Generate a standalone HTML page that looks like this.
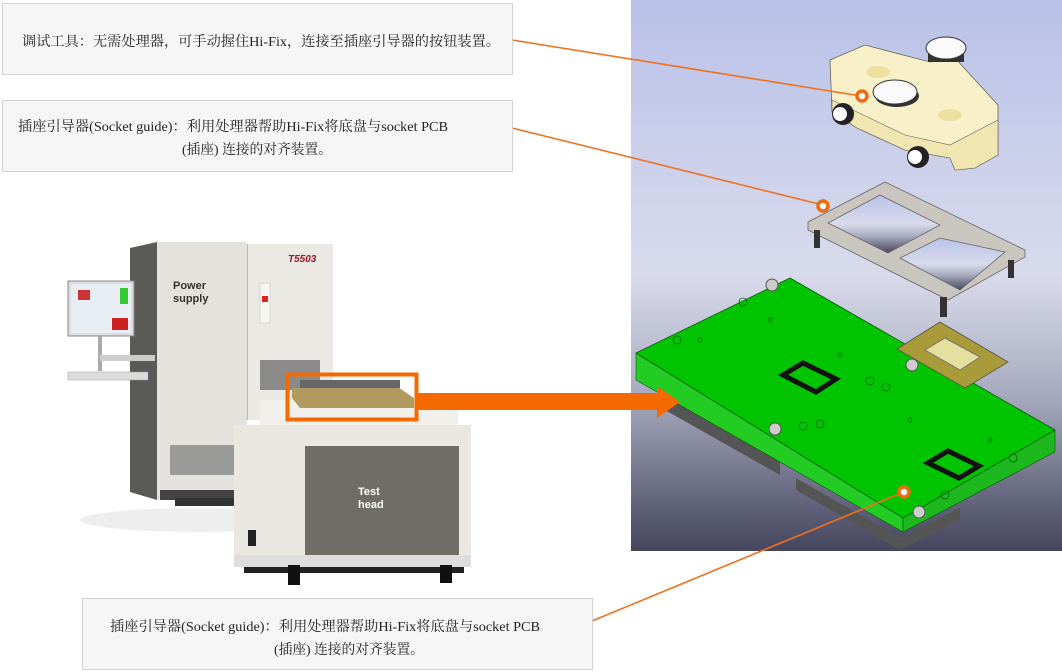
<!DOCTYPE html>
<html><head><meta charset="utf-8"><style>
html,body{margin:0;padding:0;background:#fff;}
svg{display:block;}
text{font-family:"Liberation Serif","Noto Serif CJK SC",serif;}
.s{font-family:"Liberation Sans","DejaVu Sans",sans-serif;font-weight:bold;}
</style></head><body>
<svg width="1062" height="672" viewBox="0 0 1062 672" xmlns="http://www.w3.org/2000/svg">
<defs>
<linearGradient id="bg" x1="0" y1="0" x2="0" y2="1">
<stop offset="0" stop-color="#b9c1e8"/>
<stop offset="0.5" stop-color="#d9dbec"/>
<stop offset="0.72" stop-color="#a6a8bd"/>
<stop offset="1" stop-color="#45465e"/>
</linearGradient>
</defs>
<rect x="631" y="0" width="431" height="551" fill="url(#bg)"/>
<polygon points="665,395 780,460 780,475 665,410" fill="#555"/>
<polygon points="796,478 900,538 960,508 960,520 900,550 796,490" fill="#555"/>
<polygon points="636,353 903,518 903,532 636,380" fill="#22cc22" stroke="#0a5a0a" stroke-width="0.6"/>
<polygon points="903,518 1055,430 1055,452 903,532" fill="#1db81d" stroke="#0a5a0a" stroke-width="0.6"/>
<polygon points="636,353 790,278 1055,430 903,518" fill="#00c400" stroke="#0a5a0a" stroke-width="0.8"/>
<polygon points="783,375 803,363 836,379 816,392" fill="none" stroke="#111" stroke-width="5"/>
<polygon points="928,463 948,451 979,466 959,478" fill="none" stroke="#111" stroke-width="5"/>
<g fill="none" stroke="#0a6a0a" stroke-width="0.8">
<circle cx="743" cy="302" r="4"/><circle cx="677" cy="340" r="4"/><circle cx="870" cy="381" r="4"/><circle cx="886" cy="387" r="4"/><circle cx="803" cy="426" r="4"/><circle cx="820" cy="424" r="4"/><circle cx="1013" cy="458" r="4"/><circle cx="945" cy="495" r="4"/><circle cx="700" cy="340" r="2"/><circle cx="770" cy="320" r="2"/><circle cx="840" cy="355" r="2"/><circle cx="910" cy="420" r="2"/><circle cx="990" cy="440" r="2"/>
</g>
<circle cx="772" cy="285" r="6" fill="#ccc" stroke="#555"/>
<circle cx="912" cy="365" r="6" fill="#ccc" stroke="#555"/>
<circle cx="775" cy="429" r="6" fill="#ccc" stroke="#555"/>
<circle cx="919" cy="512" r="6" fill="#ccc" stroke="#555"/>
<polygon points="897,349 940,322 1008,362 965,388" fill="#a99a3a" stroke="#554" stroke-width="0.8"/>
<polygon points="925,350 945,338 980,357 960,370" fill="#e6e0a0" stroke="#776"/>
<polygon points="808,222 885,182 1025,250 1025,257 948,300 808,230" fill="#c9c6c0" stroke="#666" stroke-width="0.8"/>
<polygon points="828,223 880,195 940,225 888,253" fill="url(#bg)" stroke="#666" stroke-width="0.8"/>
<polygon points="900,258 940,238 1005,252 960,290" fill="url(#bg)" stroke="#666" stroke-width="0.8"/>
<rect x="814" y="230" width="6" height="18" fill="#333"/>
<rect x="940" y="297" width="7" height="20" fill="#333"/>
<rect x="1008" y="260" width="6" height="18" fill="#333"/>
<!-- cream block -->
<polygon points="830,60 865,45 930,62 955,58 998,105 998,155 975,168 955,170 950,158 905,150 857,128 832,112" fill="#f8f0c8" stroke="#665" stroke-width="0.8"/>
<polygon points="832,100 857,112 905,135 950,145 998,120 998,155 975,168 955,170 950,158 905,150 857,128 832,112" fill="#f1e6b2" stroke="#665" stroke-width="0.6"/>
<rect x="928" y="48" width="36" height="14" fill="#333"/>
<ellipse cx="946" cy="48" rx="20" ry="11" fill="#fafafa" stroke="#333"/>
<ellipse cx="897" cy="96" rx="22" ry="11" fill="#333"/>
<ellipse cx="895" cy="92" rx="22" ry="12" fill="#fafafa" stroke="#333"/>
<circle cx="843" cy="114" r="11" fill="#222"/><circle cx="840" cy="114" r="7" fill="#fff"/>
<circle cx="918" cy="157" r="11" fill="#222"/><circle cx="915" cy="157" r="7" fill="#fff"/>
<ellipse cx="878" cy="72" rx="12" ry="6" fill="#ece0a0"/>
<ellipse cx="950" cy="115" rx="12" ry="6" fill="#ece0a0"/>
<g stroke="#f07020" stroke-width="1.6" fill="none">
<line x1="512" y1="40" x2="861" y2="96"/>
<line x1="512" y1="128" x2="823" y2="205"/>
<line x1="592" y1="621" x2="904" y2="492"/>
</g>
<g fill="#fff" stroke="#f06a10" stroke-width="3.5">
<circle cx="862" cy="96" r="5"/><circle cx="823" cy="206" r="5"/><circle cx="904" cy="492" r="5"/>
</g>
<rect x="2.5" y="3.5" width="510" height="71" fill="#f6f6f6" stroke="#d2d2d2"/>
<rect x="2.5" y="100.5" width="510" height="71" fill="#f6f6f6" stroke="#d2d2d2"/>
<rect x="82.5" y="598.5" width="510" height="71" fill="#f6f6f6" stroke="#d2d2d2"/>
<g font-size="14" fill="#222">
<text x="22" y="46" textLength="478" lengthAdjust="spacingAndGlyphs">调试工具：无需处理器，可手动握住Hi-Fix，连接至插座引导器的按钮装置。</text>
<text x="18" y="131" textLength="430" lengthAdjust="spacingAndGlyphs">插座引导器(Socket guide)：利用处理器帮助Hi-Fix将底盘与socket PCB</text>
<text x="182" y="154" textLength="150" lengthAdjust="spacingAndGlyphs">(插座) 连接的对齐装置。</text>
<text x="110" y="631" textLength="430" lengthAdjust="spacingAndGlyphs">插座引导器(Socket guide)：利用处理器帮助Hi-Fix将底盘与socket PCB</text>
<text x="274" y="654" textLength="150" lengthAdjust="spacingAndGlyphs">(插座) 连接的对齐装置。</text>
</g>
<ellipse cx="200" cy="520" rx="120" ry="12" fill="#eee"/>
<polygon points="130,248 157,242 157,500 130,492" fill="#5a5a58"/>
<rect x="157" y="242" width="90" height="258" fill="#e4e2dc"/>
<rect x="247" y="244" width="86" height="176" fill="#ebe9e3"/>
<rect x="247" y="244" width="1" height="176" fill="#bbb"/>
<rect x="260" y="283" width="10" height="40" fill="#f5f5f2" stroke="#bbb" stroke-width="0.5"/>
<rect x="262" y="296" width="6" height="6" fill="#d22"/>
<rect x="260" y="360" width="60" height="30" fill="#8a8a88"/>
<rect x="170" y="445" width="70" height="30" fill="#9a9a98"/>
<rect x="160" y="490" width="80" height="10" fill="#444"/>
<rect x="175" y="498" width="60" height="8" fill="#333"/>
<text x="288" y="262" font-size="10" fill="#a01828" class="s" font-style="italic">T5503</text>
<text x="173" y="289" font-size="11" fill="#333" class="s" font-weight="normal">Power</text>
<text x="173" y="302" font-size="11" fill="#333" class="s" font-weight="normal">supply</text>
<rect x="68" y="281" width="66" height="55" fill="#ddd" stroke="#888"/>
<rect x="71" y="284" width="60" height="49" fill="#e8eef4"/>
<rect x="78" y="290" width="12" height="10" fill="#c33"/>
<rect x="112" y="318" width="16" height="12" fill="#c22"/>
<rect x="120" y="288" width="8" height="16" fill="#3c3"/>
<rect x="98" y="336" width="4" height="35" fill="#aaa"/>
<rect x="68" y="372" width="80" height="8" fill="#ddd" stroke="#999" stroke-width="0.5"/>
<rect x="100" y="355" width="55" height="6" fill="#ccc"/>
<rect x="260" y="400" width="198" height="28" fill="#f2f0ea"/>
<rect x="234" y="425" width="237" height="132" fill="#e9e7e0"/>
<rect x="305" y="446" width="154" height="111" fill="#6f6d68"/>
<rect x="234" y="555" width="237" height="12" fill="#ddd"/>
<rect x="244" y="567" width="220" height="6" fill="#222"/>
<rect x="288" y="565" width="12" height="20" fill="#111"/>
<rect x="440" y="565" width="12" height="18" fill="#111"/>
<rect x="248" y="530" width="8" height="16" fill="#222"/>
<text x="358" y="495" font-size="11" fill="#fff" class="s">Test</text>
<text x="358" y="508" font-size="11" fill="#fff" class="s">head</text>
<polygon points="292,388 395,385 414,398 414,408 300,408 292,398" fill="#b09a60"/>
<rect x="300" y="380" width="100" height="8" fill="#666"/>
<rect x="287.5" y="374.5" width="129" height="45" fill="none" stroke="#f56a00" stroke-width="4"/>
<polygon points="418,393 657,393 657,386 680,402 657,418 657,410 418,410" fill="#f56a00"/>
</svg>
</body></html>
